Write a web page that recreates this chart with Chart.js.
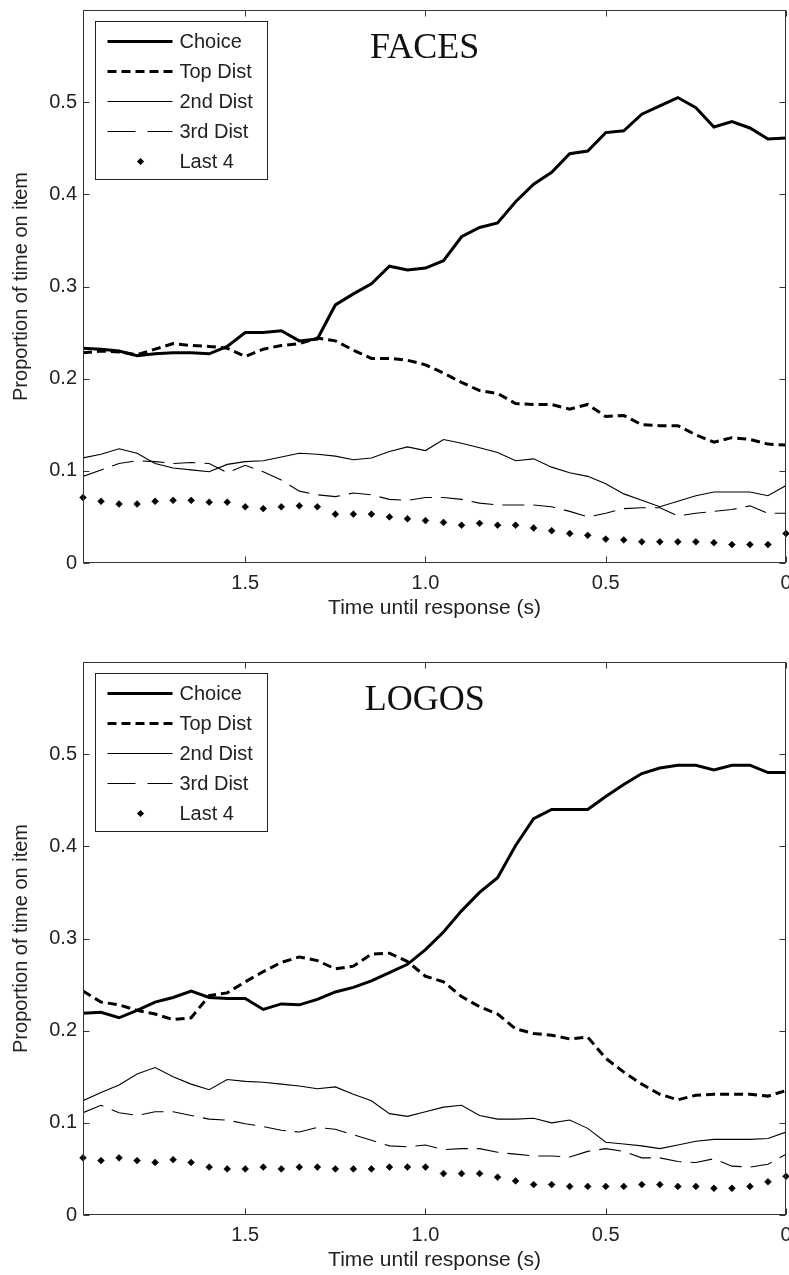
<!DOCTYPE html>
<html>
<head>
<meta charset="utf-8">
<script src="https://cdn.jsdelivr.net/npm/chart.js@4.4.0/dist/chart.umd.min.js"></script>
<style>
  html, body { margin: 0; padding: 0; background: #fff; }
  body { width: 789px; height: 1275px; overflow: hidden; position: relative; }
  .panel { position: absolute; left: 0; width: 800px; height: 623px; }
  #panelFaces { top: 0; }
  #panelLogos { top: 652px; }
</style>
</head>
<body>
<div class="panel" id="panelFaces"><canvas id="chartFaces" width="800" height="623"></canvas></div>
<div class="panel" id="panelLogos"><canvas id="chartLogos" width="800" height="623"></canvas></div>
<script>
// time until response (s), one sample every 50 ms
const times = [1.95, 1.90, 1.85, 1.80, 1.75, 1.70, 1.65, 1.60, 1.55, 1.50,
               1.45, 1.40, 1.35, 1.30, 1.25, 1.20, 1.15, 1.10, 1.05, 1.00,
               0.95, 0.90, 0.85, 0.80, 0.75, 0.70, 0.65, 0.60, 0.55, 0.50,
               0.45, 0.40, 0.35, 0.30, 0.25, 0.20, 0.15, 0.10, 0.05, 0.00];

const seriesNames = ['Choice', 'Top Dist', '2nd Dist', '3rd Dist', 'Last 4'];

// FACES
const facesChoice = [0.233, 0.232, 0.230, 0.225, 0.227, 0.228, 0.228, 0.227, 0.235, 0.250,
                     0.250, 0.252, 0.241, 0.243, 0.280, 0.292, 0.303, 0.322, 0.318, 0.320,
                     0.328, 0.354, 0.364, 0.369, 0.392, 0.411, 0.424, 0.444, 0.447, 0.467,
                     0.469, 0.487, 0.496, 0.505, 0.494, 0.473, 0.479, 0.472, 0.460, 0.461];
const facesTopDist = [0.228, 0.230, 0.229, 0.226, 0.232, 0.238, 0.236, 0.235, 0.233, 0.224,
                      0.232, 0.236, 0.238, 0.244, 0.241, 0.231, 0.222, 0.222, 0.220, 0.215,
                      0.206, 0.196, 0.187, 0.184, 0.173, 0.172, 0.172, 0.167, 0.172, 0.159,
                      0.160, 0.150, 0.149, 0.149, 0.139, 0.131, 0.136, 0.134, 0.129, 0.128];
const facesSecond = [0.114, 0.118, 0.124, 0.119, 0.108, 0.103, 0.101, 0.099, 0.107, 0.110,
                     0.111, 0.115, 0.119, 0.118, 0.116, 0.112, 0.114, 0.121, 0.126, 0.122,
                     0.134, 0.130, 0.125, 0.120, 0.111, 0.113, 0.104, 0.098, 0.094, 0.086,
                     0.075, 0.068, 0.061, 0.067, 0.073, 0.077, 0.077, 0.077, 0.073, 0.084];
const facesThird = [0.094, 0.101, 0.108, 0.111, 0.110, 0.108, 0.109, 0.108, 0.098, 0.106,
                    0.099, 0.090, 0.078, 0.074, 0.072, 0.076, 0.074, 0.069, 0.068, 0.071,
                    0.071, 0.069, 0.065, 0.063, 0.063, 0.063, 0.061, 0.056, 0.050, 0.054,
                    0.059, 0.060, 0.060, 0.051, 0.054, 0.056, 0.058, 0.062, 0.054, 0.054];
const facesLast4 = [0.071, 0.067, 0.064, 0.064, 0.067, 0.068, 0.068, 0.066, 0.066, 0.061,
                    0.059, 0.061, 0.062, 0.061, 0.053, 0.053, 0.053, 0.050, 0.048, 0.046,
                    0.044, 0.041, 0.043, 0.041, 0.041, 0.038, 0.035, 0.032, 0.030, 0.026,
                    0.025, 0.023, 0.023, 0.023, 0.023, 0.022, 0.020, 0.020, 0.020, 0.032];

// LOGOS
const logosChoice = [0.219, 0.220, 0.214, 0.222, 0.231, 0.236, 0.243, 0.236, 0.235, 0.235,
                     0.223, 0.229, 0.228, 0.234, 0.242, 0.247, 0.254, 0.263, 0.272, 0.288,
                     0.307, 0.330, 0.350, 0.366, 0.401, 0.430, 0.440, 0.440, 0.440, 0.454,
                     0.467, 0.479, 0.485, 0.488, 0.488, 0.483, 0.488, 0.488, 0.480, 0.480];
const logosTopDist = [0.243, 0.231, 0.228, 0.222, 0.218, 0.212, 0.214, 0.238, 0.241, 0.253,
                      0.264, 0.274, 0.280, 0.276, 0.267, 0.270, 0.283, 0.284, 0.275, 0.259,
                      0.253, 0.237, 0.226, 0.218, 0.202, 0.197, 0.195, 0.191, 0.193, 0.170,
                      0.155, 0.142, 0.131, 0.125, 0.130, 0.131, 0.131, 0.131, 0.129, 0.135];
const logosSecond = [0.124, 0.133, 0.141, 0.153, 0.160, 0.150, 0.142, 0.136, 0.147, 0.145,
                     0.144, 0.142, 0.140, 0.137, 0.139, 0.131, 0.124, 0.110, 0.107, 0.112,
                     0.117, 0.119, 0.108, 0.104, 0.104, 0.105, 0.100, 0.103, 0.094, 0.079,
                     0.077, 0.075, 0.072, 0.076, 0.080, 0.082, 0.082, 0.082, 0.083, 0.090];
const logosThird = [0.111, 0.119, 0.111, 0.108, 0.112, 0.112, 0.108, 0.104, 0.103, 0.099,
                    0.096, 0.092, 0.090, 0.095, 0.093, 0.087, 0.081, 0.075, 0.074, 0.076,
                    0.071, 0.072, 0.072, 0.068, 0.066, 0.064, 0.064, 0.063, 0.069, 0.072,
                    0.069, 0.062, 0.062, 0.058, 0.057, 0.061, 0.053, 0.052, 0.055, 0.066];
const logosLast4 = [0.062, 0.059, 0.062, 0.059, 0.057, 0.060, 0.057, 0.052, 0.050, 0.050,
                    0.052, 0.050, 0.052, 0.052, 0.050, 0.050, 0.050, 0.052, 0.052, 0.052,
                    0.045, 0.045, 0.045, 0.041, 0.037, 0.033, 0.033, 0.031, 0.031, 0.031,
                    0.031, 0.033, 0.033, 0.031, 0.031, 0.029, 0.029, 0.031, 0.036, 0.042];

const sansFamily = '"Liberation Sans", Arial, sans-serif';
Chart.defaults.font.family = sansFamily;
Chart.defaults.font.size = 20;
Chart.defaults.color = '#222';

const toPoints = arr => times.map((t, i) => ({ x: t, y: arr[i] }));

// box, inward ticks on all four sides, panel title and legend (MATLAB look)
const matlabFrame = {
    id: 'matlabFrame',
    afterDatasetsDraw(chart, args, opts) {
        const { ctx, chartArea: a, scales: { x, y } } = chart;
        const L = Math.round(a.left) + 0.5, R = Math.round(a.right) - 0.5;
        const T = Math.round(a.top) + 0.5, B = Math.round(a.bottom) - 0.5;
        ctx.save();
        ctx.strokeStyle = '#333';
        ctx.lineWidth = 1;
        ctx.beginPath();
        x.ticks.forEach(t => {
            const px = Math.round(x.getPixelForValue(t.value)) + 0.5;
            ctx.moveTo(px, B); ctx.lineTo(px, B - 6);
            ctx.moveTo(px, T); ctx.lineTo(px, T + 6);
        });
        y.ticks.forEach(t => {
            const py = Math.round(y.getPixelForValue(t.value)) + 0.5;
            ctx.moveTo(L, py); ctx.lineTo(L + 6, py);
            ctx.moveTo(R, py); ctx.lineTo(R - 6, py);
        });
        ctx.stroke();
        ctx.strokeRect(L, T, R - L, B - T);

        // panel title
        ctx.fillStyle = '#111';
        ctx.font = '36px "Liberation Serif", "Times New Roman", serif';
        ctx.textAlign = 'center';
        ctx.textBaseline = 'alphabetic';
        ctx.fillText(opts.title, a.left + a.width * 0.486, a.top + 48);

        // legend box
        const bx = Math.round(a.left) + 12.5, by = Math.round(a.top) + 11.5;
        ctx.fillStyle = '#fff';
        ctx.fillRect(bx, by, 172, 158);
        ctx.strokeStyle = '#222';
        ctx.strokeRect(bx, by, 172, 158);
        ctx.font = '20px ' + sansFamily;
        ctx.textAlign = 'left';
        ctx.textBaseline = 'middle';
        chart.data.datasets.forEach((ds, i) => {
            const yy = by + 20 + i * 30;
            ctx.strokeStyle = '#000';
            ctx.fillStyle = '#000';
            if (ds.showLine === false) {
                const cx = bx + 45, r = 3.6;
                ctx.beginPath();
                ctx.moveTo(cx - r, yy); ctx.lineTo(cx, yy - r);
                ctx.lineTo(cx + r, yy); ctx.lineTo(cx, yy + r);
                ctx.closePath();
                ctx.fill();
            } else {
                ctx.lineWidth = ds.borderWidth;
                ctx.setLineDash(ds.legendDash || ds.borderDash || []);
                ctx.beginPath();
                ctx.moveTo(bx + 12, yy); ctx.lineTo(bx + 77, yy);
                ctx.stroke();
                ctx.setLineDash([]);
            }
            ctx.fillStyle = '#222';
            ctx.fillText(ds.label, bx + 84, yy + 1);
        });
        ctx.restore();
    }
};

function makePanel(canvasId, title, choice, topDist, second, third, last4) {
    new Chart(document.getElementById(canvasId), {
        type: 'line',
        data: {
            datasets: [
                { label: seriesNames[0], data: toPoints(choice), borderColor: '#000', borderWidth: 3, pointRadius: 0 },
                { label: seriesNames[1], data: toPoints(topDist), borderColor: '#000', borderWidth: 3, borderDash: [9, 5], pointRadius: 0 },
                { label: seriesNames[2], data: toPoints(second), borderColor: '#000', borderWidth: 1.1, pointRadius: 0 },
                { label: seriesNames[3], data: toPoints(third), borderColor: '#000', borderWidth: 1.1, borderDash: [22, 9],
                  legendDash: [28, 12], pointRadius: 0 },
                { label: seriesNames[4], data: toPoints(last4), showLine: false, pointStyle: 'rectRot',
                  pointRadius: 3.4, pointBorderWidth: 0.6, pointBackgroundColor: '#000', pointBorderColor: '#000', clip: false }
            ]
        },
        options: {
            responsive: false,
            animation: false,
            events: [],
            layout: { padding: { top: 10, right: 14, left: 0, bottom: 0 } },
            plugins: {
                legend: { display: false },
                tooltip: { enabled: false },
                matlabFrame: { title: title }
            },
            elements: { line: { tension: 0, fill: false } },
            scales: {
                x: {
                    type: 'linear',
                    reverse: true,
                    min: 0,
                    max: 1.95,
                    grid: { display: false, drawTicks: false },
                    border: { display: false },
                    ticks: {
                        stepSize: 0.5,
                        includeBounds: false,
                        padding: 8,
                        maxRotation: 0,
                        callback: v => v === 0 ? '0' : v.toFixed(1)
                    },
                    title: { display: true, text: 'Time until response (s)', font: { size: 21 },
                             padding: { top: 0, bottom: 2 } },
                    afterFit: s => { s.height = 60; }
                },
                y: {
                    min: 0,
                    max: 0.6,
                    grid: { display: false, drawTicks: false },
                    border: { display: false },
                    ticks: {
                        stepSize: 0.1,
                        padding: 6,
                        callback: v => v === 0 ? '0' : (v > 0.55 ? '' : v.toFixed(1))
                    },
                    title: { display: true, text: 'Proportion of time on item', padding: { top: 9, bottom: 0 } },
                    afterFit: s => { s.width = 83; s.paddingTop = 0; s.paddingBottom = 0; }
                }
            }
        },
        plugins: [matlabFrame]
    });
}

makePanel('chartFaces', 'FACES', facesChoice, facesTopDist, facesSecond, facesThird, facesLast4);
makePanel('chartLogos', 'LOGOS', logosChoice, logosTopDist, logosSecond, logosThird, logosLast4);
</script>
</body>
</html>
